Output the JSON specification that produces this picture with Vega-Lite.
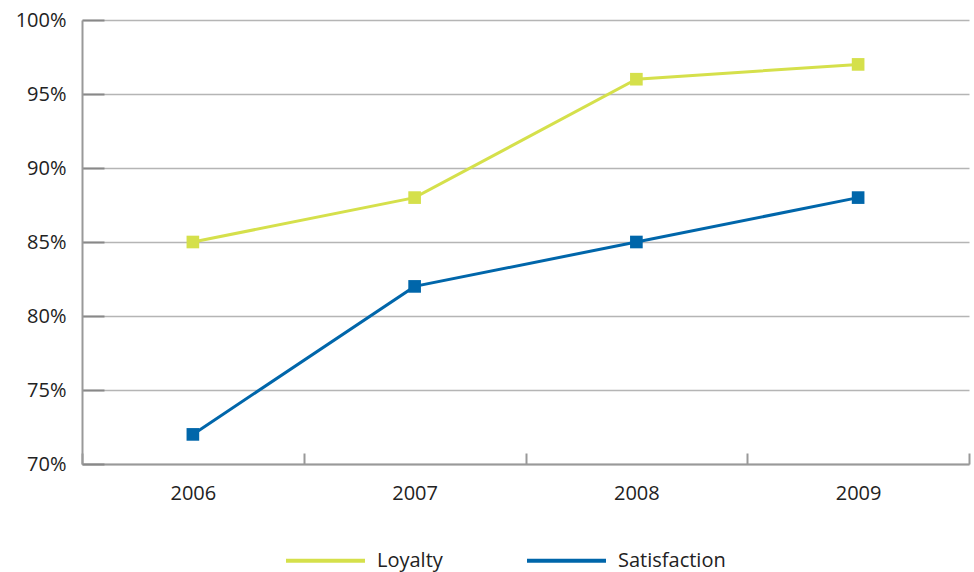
{
  "$schema": "https://vega.github.io/schema/vega-lite/v6.json",
  "autosize": "none",
  "padding": {"left": 82, "top": 20, "right": 5, "bottom": 108},
  "width": 887,
  "height": 444,
  "config": {"view": {"stroke": null}, "font": "Open Sans"},
  "data": {"values": [
    {"year": "2006", "series": "Loyalty", "value": 0.85},
    {"year": "2007", "series": "Loyalty", "value": 0.88},
    {"year": "2008", "series": "Loyalty", "value": 0.96},
    {"year": "2009", "series": "Loyalty", "value": 0.97},
    {"year": "2006", "series": "Satisfaction", "value": 0.72},
    {"year": "2007", "series": "Satisfaction", "value": 0.82},
    {"year": "2008", "series": "Satisfaction", "value": 0.85},
    {"year": "2009", "series": "Satisfaction", "value": 0.88}
  ]},
  "encoding": {
    "x": {"field": "year", "type": "ordinal", "title": null,
      "scale": {"type": "band", "paddingInner": 0, "paddingOuter": 0},
      "axis": {"labelAngle": 0, "tickBand": "extent", "tickSize": -11, "tickColor": "#999", "tickWidth": 2,
        "domainColor": "#999", "domainWidth": 2, "labelPadding": 30, "labelFontSize": 20, "labelColor": "#222", "labelFont": "Open Sans", "grid": false}},
    "y": {"field": "value", "type": "quantitative", "title": null,
      "scale": {"domain": [0.7, 1.0]},
      "axis": {"format": ".0%", "values": [0.7, 0.75, 0.8, 0.85, 0.9, 0.95, 1.0], "grid": true, "gridColor": "#b5b5b5", "gridWidth": 1.5,
        "tickSize": -22, "tickColor": "#888", "tickWidth": 2, "domainColor": "#999", "domainWidth": 2,
        "labelPadding": 38, "labelFontSize": 20, "labelColor": "#222", "labelFont": "Open Sans"}},
    "color": {"field": "series", "type": "nominal",
      "scale": {"domain": ["Loyalty", "Satisfaction"], "range": ["#d5e04b", "#0066aa"]},
      "legend": {"orient": "none", "direction": "horizontal", "legendX": 202, "legendY": 499, "title": null,
        "symbolType": "stroke", "symbolSize": 6241, "symbolStrokeWidth": 4, "labelFontSize": 20, "labelColor": "#222",
        "columnPadding": 76, "labelOffset": 10, "labelFont": "Open Sans"}}
  },
  "layer": [
    {"mark": {"type": "line", "strokeWidth": 3}},
    {"mark": {"type": "square", "size": 160, "opacity": 1, "filled": true}}
  ]
}
